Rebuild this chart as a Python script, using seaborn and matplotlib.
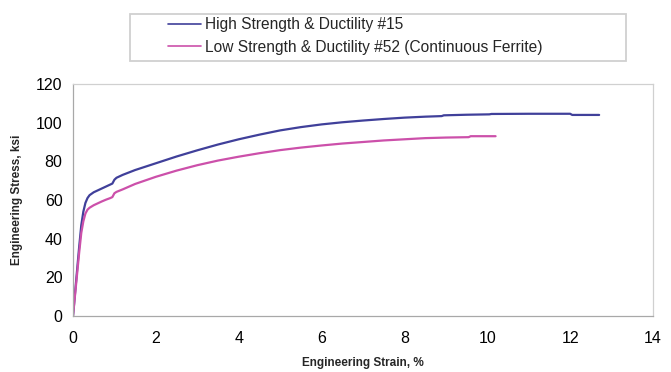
import numpy as np
import pandas as pd
import matplotlib
matplotlib.use('Agg')
import matplotlib.pyplot as plt
import seaborn as sns
from matplotlib.ticker import MultipleLocator
from matplotlib.patches import Rectangle

sns.set_style('white')
plt.rcParams['font.family'] = ['Liberation Sans', 'DejaVu Sans']

# 曲线数据 (应变 %, 应力 ksi)
high_strain = [0, 0.05, 0.1, 0.15, 0.2, 0.25, 0.3, 0.35, 0.4, 0.5, 0.6, 0.7, 0.8, 0.9, 0.95,
               1.0, 1.05, 1.2, 1.5, 2, 2.5, 3, 3.5, 4, 4.5, 5, 5.5, 6, 6.5, 7, 7.5, 8, 8.5,
               8.9, 8.95, 9.5, 10.05, 10.1, 11, 12.0, 12.05, 12.7]
high_stress = [0, 12, 24, 36, 47, 54, 58.5, 61, 62.5, 64, 65, 66, 67, 68, 68.5,
               70.5, 71.5, 73, 75.5, 79, 82.5, 85.7, 88.7, 91.4, 93.8, 96, 97.7, 99.1, 100.2, 101.1, 101.9, 102.6, 103.1,
               103.4, 103.8, 104.1, 104.3, 104.5, 104.6, 104.6, 104.0, 104.0]

low_strain = [0, 0.05, 0.1, 0.15, 0.2, 0.25, 0.3, 0.35, 0.4, 0.5, 0.6, 0.7, 0.8, 0.9, 0.95,
              1.0, 1.05, 1.2, 1.5, 2, 2.5, 3, 3.5, 4, 4.5, 5, 5.5, 6, 6.5, 7, 7.5, 8, 8.5,
              9, 9.55, 9.6, 10.2]
low_stress = [0, 11, 22, 33, 43, 49, 53, 55, 56, 57.3, 58.3, 59.3, 60.2, 61, 61.5,
              63.5, 64.2, 65.5, 68.3, 72, 75.2, 78, 80.4, 82.4, 84.2, 85.8, 87.1, 88.2, 89.2, 90, 90.8, 91.4, 92,
              92.3, 92.5, 93, 93]

labels = ['High Strength & Ductility #15', 'Low Strength & Ductility #52 (Continuous Ferrite)']
colors = ['#40409a', '#cc50aa']

df = pd.concat([
    pd.DataFrame({'strain': high_strain, 'stress': high_stress, 'sample': labels[0]}),
    pd.DataFrame({'strain': low_strain, 'stress': low_stress, 'sample': labels[1]}),
])

fig = plt.figure(figsize=(6.71, 3.72), dpi=100)
ax = fig.add_axes([73 / 671, 1 - 316 / 372, 580 / 671, 232 / 372])

sns.lineplot(data=df, x='strain', y='stress', hue='sample', palette=colors,
             sort=False, estimator=None, linewidth=1.6, ax=ax)

ax.set_xlim(0, 14)
ax.set_ylim(0, 120)
ax.xaxis.set_major_locator(MultipleLocator(2))
ax.xaxis.set_minor_locator(MultipleLocator(0.4))
ax.yaxis.set_major_locator(MultipleLocator(20))
ax.yaxis.set_minor_locator(MultipleLocator(10))
ax.tick_params(which='both', direction='out', color='#a8a8a8', labelsize=11.5, colors='#a8a8a8',
               labelcolor='black')
ax.tick_params(which='major', length=4, width=0.8)
ax.tick_params(which='minor', length=3, width=0.6)
ax.tick_params(axis='x', pad=7)
for s in ax.spines.values():
    s.set_color('#d0d0d0')
    s.set_linewidth(0.9)
ax.spines['left'].set_color('#a8a8a8')
ax.spines['bottom'].set_color('#a8a8a8')

ax.set_xlabel('Engineering Strain, %', fontsize=8.5, fontweight='bold', labelpad=8)
ax.set_ylabel('Engineering Stress, ksi', fontsize=8.5, fontweight='bold', labelpad=9)

# 图例框
handles, _ = ax.get_legend_handles_labels()
ax.get_legend().remove()
fig.patches.append(Rectangle((130 / 671, 1 - 61 / 372), 496 / 671, 47 / 372,
                             transform=fig.transFigure, fill=False,
                             edgecolor='#d0d0d0', linewidth=1.3))
leg = fig.legend(handles, labels, loc='upper left',
                 bbox_to_anchor=(168 / 671, 1 - 17 / 372),
                 fontsize=11.2, frameon=False, handlelength=2.1,
                 handletextpad=0.25, labelspacing=0.5, borderpad=0, borderaxespad=0)
for line in leg.get_lines():
    line.set_linewidth(1.2)

fig.savefig('out.png', dpi=100)
